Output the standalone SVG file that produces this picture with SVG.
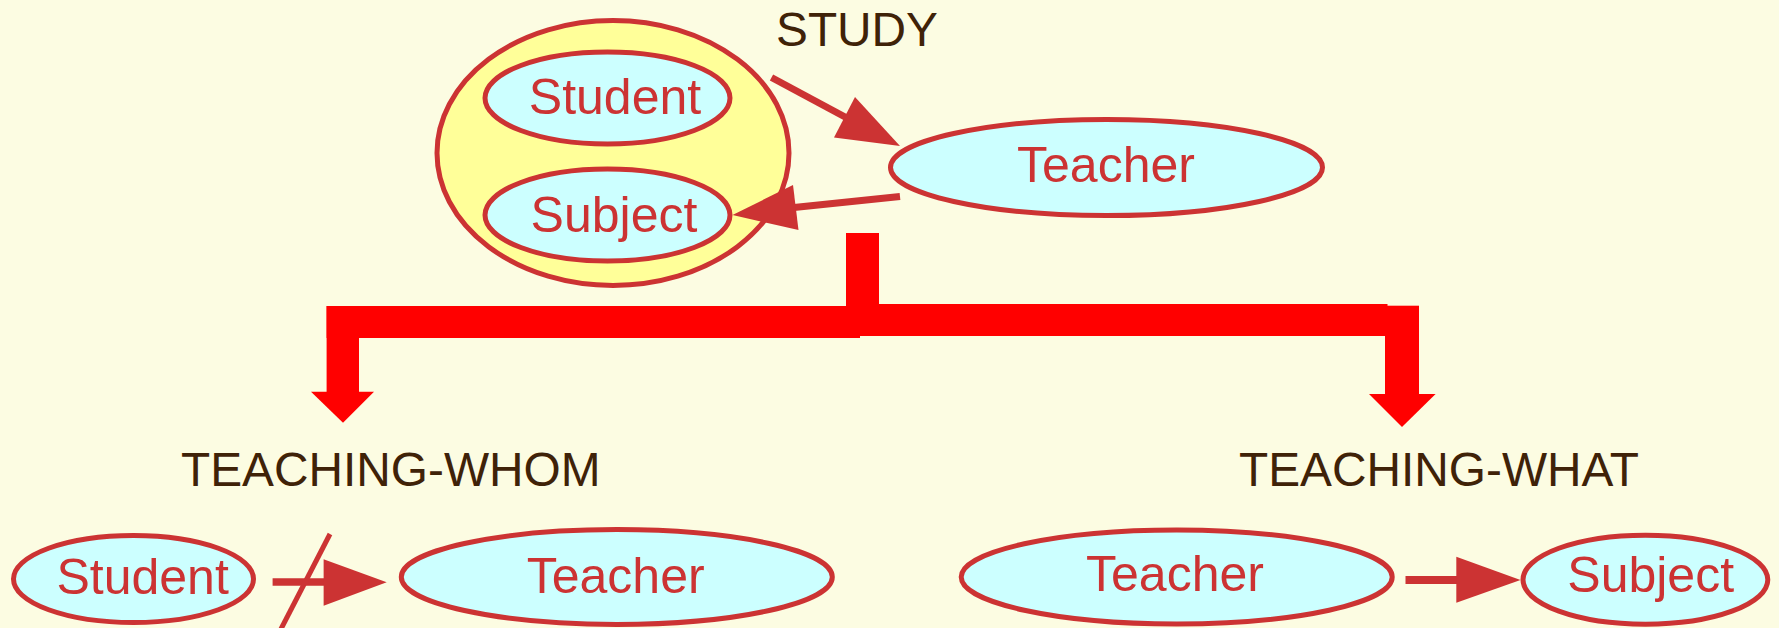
<svg xmlns="http://www.w3.org/2000/svg" width="1779" height="628" viewBox="0 0 1779 628">
<style>
.node{fill:#ccffff;stroke:#cc3333;stroke-width:5}
.outer{fill:#ffff99;stroke:#cc3333;stroke-width:5}
.nl{font-family:"Liberation Sans",Arial,sans-serif;font-size:50px;fill:#cc3333;text-anchor:middle}
.lab{font-family:"Liberation Sans",Arial,sans-serif;font-size:47.8px;fill:#3f2208}
.edge{stroke:#cc3333;fill:none}
.head{fill:#cc3333}
.bar{fill:#ff0000}
</style>
<rect width="1779" height="628" fill="#fcfce2"/>
<g id="study-group">
<ellipse class="outer" cx="613" cy="153" rx="176" ry="132.5"/>
<text class="lab" x="776" y="46">STUDY</text>
</g>
<g id="student-top">
<ellipse class="node" cx="607.5" cy="98" rx="122.5" ry="46"/>
<text class="nl" x="615" y="113.5">Student</text>
</g>
<g id="subject-top">
<ellipse class="node" cx="607.5" cy="215" rx="122.5" ry="46"/>
<text class="nl" x="614" y="231.5">Subject</text>
</g>
<g id="teacher-top">
<ellipse class="node" cx="1106.5" cy="167.5" rx="216" ry="48"/>
<text class="nl" x="1106" y="182">Teacher</text>
</g>
<g id="label-whom">
<text class="lab" x="181" y="485.5">TEACHING-WHOM</text>
</g>
<g id="label-what">
<text class="lab" x="1239" y="485.5">TEACHING-WHAT</text>
</g>
<g id="student-bottom">
<ellipse class="node" cx="133.5" cy="579" rx="120" ry="43.5"/>
<text class="nl" x="142.6" y="594">Student</text>
</g>
<g id="teacher-bottom-left">
<ellipse class="node" cx="616.8" cy="577" rx="215.5" ry="47.4"/>
<text class="nl" x="615.7" y="593">Teacher</text>
</g>
<g id="teacher-bottom-right">
<ellipse class="node" cx="1176.7" cy="577" rx="215.5" ry="47"/>
<text class="nl" x="1175" y="591">Teacher</text>
</g>
<g id="subject-bottom-right">
<ellipse class="node" cx="1645.4" cy="579.7" rx="122.4" ry="44.5"/>
<text class="nl" x="1650.7" y="592">Subject</text>
</g>
<g id="connectors">
<line class="edge" x1="771.5" y1="77.5" x2="846" y2="117.5" stroke-width="7"/>
<polygon class="head" points="855,97 834,137.5 900,146"/>
<line class="edge" x1="900" y1="196.5" x2="794" y2="207.5" stroke-width="7"/>
<polygon class="head" points="793,185 798.5,230 732.5,215"/>
<rect class="bar" x="846" y="233" width="33" height="103"/>
<rect class="bar" x="326.6" y="306" width="533.4" height="32"/>
<rect class="bar" x="879" y="304" width="508.5" height="32"/>
<rect class="bar" x="326.6" y="306" width="32.4" height="86.5"/>
<polygon class="bar" points="311,391.7 374,391.7 343,422.7"/>
<rect class="bar" x="1385" y="305.7" width="34" height="88.8"/>
<polygon class="bar" points="1369,394 1435.6,394 1402,427"/>
<line class="edge" x1="272.6" y1="582" x2="325" y2="582" stroke-width="7.7"/>
<polygon class="head" points="323.6,559.3 323.6,605.7 386.7,582.3"/>
<line class="edge" x1="330" y1="534" x2="281" y2="629" stroke-width="5"/>
<line class="edge" x1="1405.5" y1="580" x2="1457" y2="580" stroke-width="8"/>
<polygon class="head" points="1456.3,556.7 1456.3,602.7 1520.5,580"/>
</g>
</svg>
